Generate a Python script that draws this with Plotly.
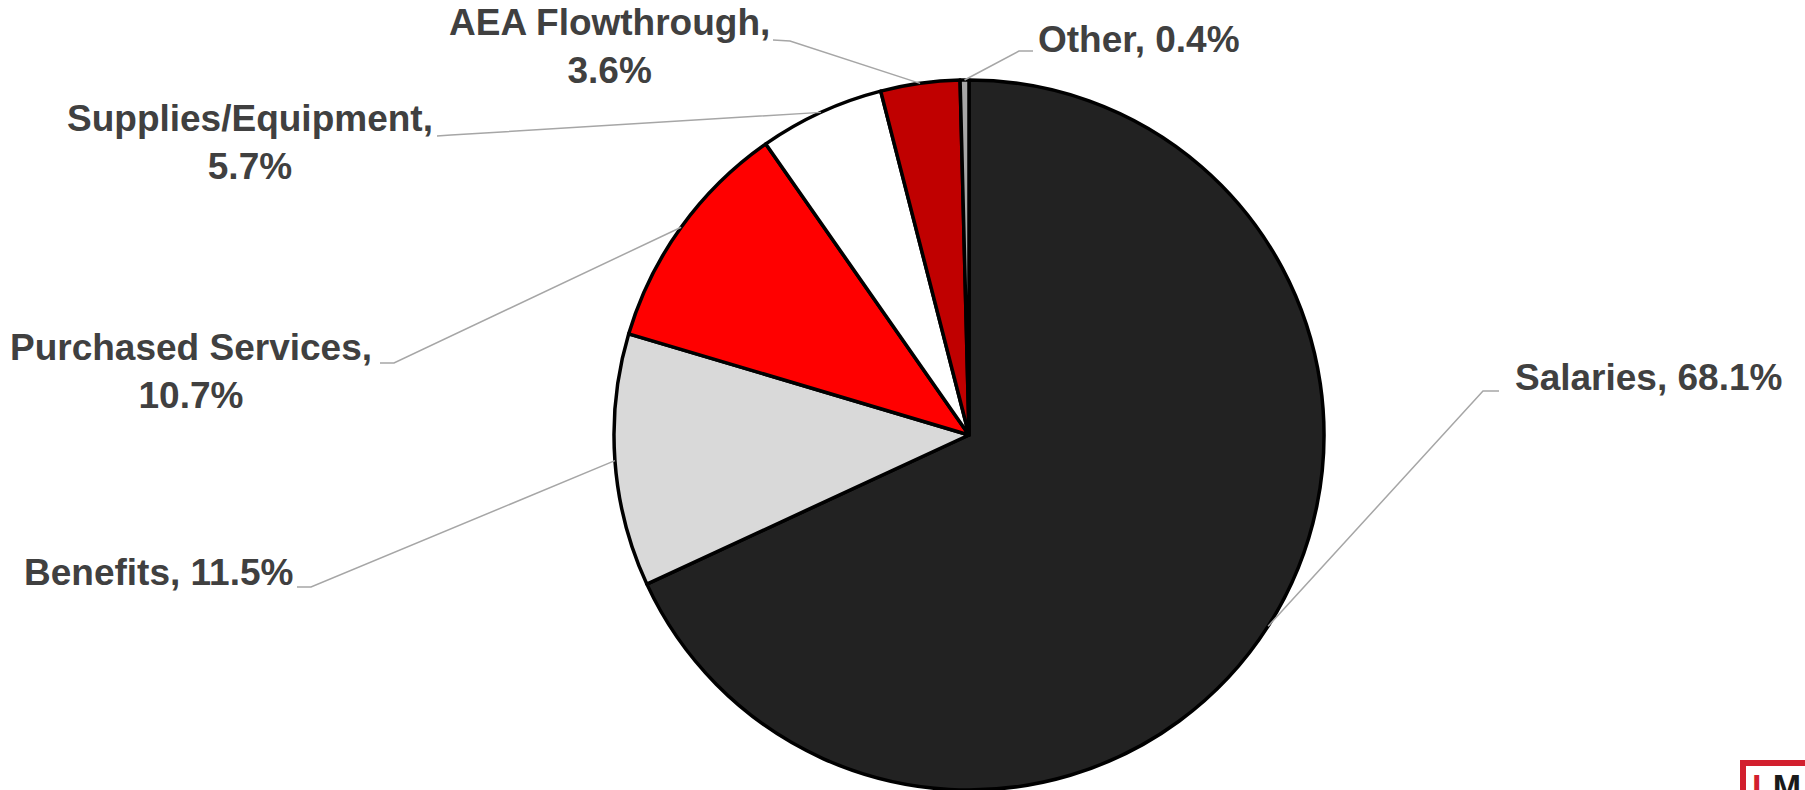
import math
import plotly.graph_objects as go

# Expense categories and their share of total spending (%)
categories = ["Salaries", "Benefits", "Purchased Services",
              "Supplies/Equipment", "AEA Flowthrough", "Other"]
shares = [68.1, 11.5, 10.7, 5.7, 3.6, 0.4]
slice_colors = ["#222222", "#D9D9D9", "#FF0000", "#FFFFFF", "#C00000", "#A6A6A6"]
# Labels that wrap the percentage onto a second line
two_line = [False, False, True, True, True, False]

W, H = 1805, 790
CX, CY, R = 969, 435, 355          # pie centre / radius in pixels

# Label placement (pixels): text anchor x, y, xanchor, elbow point, line end near text
label_layout = {
    "Salaries":           dict(x=1514, y=377, xa="left",   elbow=(1483, 391), end=(1499, 391)),
    "Benefits":           dict(x=294,  y=572, xa="right",  elbow=(311, 587),  end=(297, 587)),
    "Purchased Services": dict(x=191,  y=371, xa="center", elbow=(394, 363),  end=(380, 363)),
    "Supplies/Equipment": dict(x=250,  y=143, xa="center", elbow=(451, 135),  end=(437, 136)),
    "AEA Flowthrough":    dict(x=609,  y=47,  xa="center", elbow=(790, 41),   end=(773, 40)),
    "Other":              dict(x=1037, y=39,  xa="left",   elbow=(1019, 51),  end=(1033, 51)),
}


def px(x):
    return x / W


def py(y):
    return 1 - y / H


fig = go.Figure(go.Pie(
    labels=categories,
    values=shares,
    sort=False,
    direction="clockwise",
    rotation=0,
    textinfo="none",
    hoverinfo="label+percent",
    marker=dict(colors=slice_colors, line=dict(color="#000000", width=3.5)),
    domain=dict(x=[px(CX - 420), px(CX + 420)], y=[0, (2 * R) / H]),
    showlegend=False,
))

total = sum(shares)
cum = 0.0
shapes = []
annotations = []
for name, val, wrap in zip(categories, shares, two_line):
    mid = (cum + val / 2) / total
    cum += val
    theta = 2 * math.pi * mid
    ex = CX + R * math.sin(theta)
    ey = CY - R * math.cos(theta)
    lay = label_layout[name]
    (bx, by), (tx, ty) = lay["elbow"], lay["end"]
    shapes.append(dict(
        type="path", xref="paper", yref="paper",
        path=f"M {px(ex)},{py(ey)} L {px(bx)},{py(by)} L {px(tx)},{py(ty)}",
        line=dict(color="#A6A6A6", width=1.5),
    ))
    sep = ",<br>" if wrap else ", "
    annotations.append(dict(
        x=px(lay["x"]), y=py(lay["y"]), xref="paper", yref="paper",
        xanchor=lay["xa"], yanchor="middle", align="center",
        text=f"{name}{sep}{val:.1f}%", showarrow=False, borderpad=0,
        font=dict(family="Liberation Sans, Arial, sans-serif", size=37,
                  color="#404040", weight="bold"),
    ))

# Corner logo mark
shapes.append(dict(type="rect", xref="paper", yref="paper",
                   x0=px(1743), x1=px(1830), y0=py(840), y1=py(763),
                   line=dict(color="#D21F2E", width=6), fillcolor="rgba(0,0,0,0)"))
annotations.append(dict(
    x=px(1751), y=py(766), xref="paper", yref="paper", xanchor="left", yanchor="top",
    text="<span style='color:#D21F2E'>L</span>M", showarrow=False, borderpad=0,
    font=dict(family="Liberation Sans, Arial, sans-serif", size=34,
              color="#1A1A1A", weight="bold"),
))

fig.update_layout(
    width=W, height=H,
    margin=dict(l=0, r=0, t=0, b=0),
    paper_bgcolor="#FFFFFF",
    plot_bgcolor="#FFFFFF",
    shapes=shapes,
    annotations=annotations,
)

fig.write_html("out.html")
